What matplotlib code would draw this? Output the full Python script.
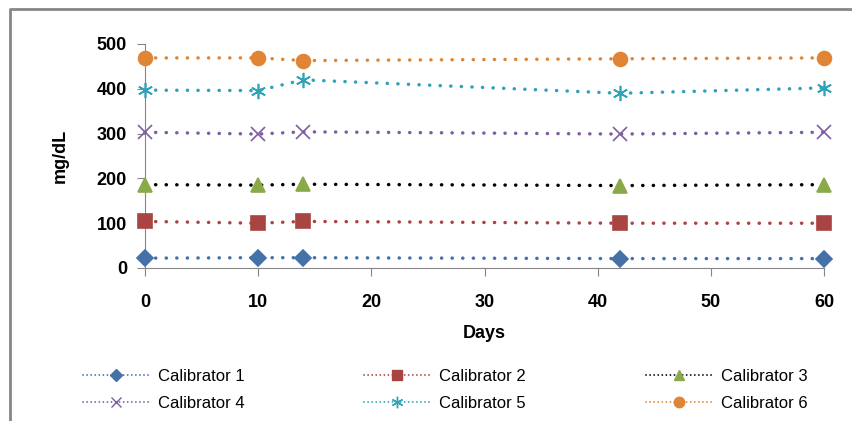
import matplotlib
matplotlib.use('Agg')
import matplotlib.pyplot as plt
from matplotlib.lines import Line2D

days = [0, 10, 14, 42, 60]
cal1 = [22, 23, 23, 21, 21]
cal2 = [104, 100, 104, 100, 100]
cal3 = [186, 185, 187, 184, 186]
cal4 = [303, 299, 304, 299, 303]
cal5 = [397, 396, 420, 390, 402]
cal6 = [469, 469, 463, 467, 469]
names = ['Calibrator 1', 'Calibrator 2', 'Calibrator 3', 'Calibrator 4', 'Calibrator 5', 'Calibrator 6']
series = [cal1, cal2, cal3, cal4, cal5, cal6]
line_cols = ['#4472a8', '#a84442', 'black', '#7d5e9e', '#2ea3b8', '#e08535']
mk_cols = ['#4472a8', '#a84442', '#8aaa4a', '#7d5e9e', '#2ea3b8', '#e08535']
markers = ['D', 's', '^', 'x', (6, 2, 0), 'o']
msizes = [8, 10, 10, 10, 11, 10]

plt.rcParams['font.family'] = ['Liberation Sans', 'DejaVu Sans']

fig = plt.figure(figsize=(8.52, 4.21), dpi=100)
ax = fig.add_axes([145/852, 1-268/421, (824-145)/852, (268-44)/421])

dots = (0, (0.05, 3.0))
leg_handles = []
for i in range(6):
    ax.plot(days, series[i], linestyle=dots, lw=2.5, color=line_cols[i],
            marker=markers[i], markersize=msizes[i], markeredgecolor=mk_cols[i],
            markerfacecolor=mk_cols[i], markeredgewidth=1.2,
            dash_capstyle='round', clip_on=False, zorder=3)
    leg_handles.append(Line2D([], [], linestyle=(0, (0.05, 2.2)), lw=1.3, color=line_cols[i],
                              dash_capstyle='round', marker=markers[i],
                              markersize=msizes[i]*0.75, markeredgecolor=mk_cols[i],
                              markerfacecolor=mk_cols[i], markeredgewidth=1.0))

ax.set_xlim(0, 60)
ax.set_ylim(0, 500)
ax.set_xticks(range(0, 61, 10))
ax.set_yticks(range(0, 501, 100))
for s in ['top', 'right']:
    ax.spines[s].set_visible(False)
for s in ['left', 'bottom']:
    ax.spines[s].set_color('#868686')
ax.tick_params(axis='both', colors='#868686', labelcolor='black', labelsize=13, length=6)
ax.tick_params(axis='y', pad=7)
ax.tick_params(axis='x', pad=13)
for lab in ax.get_xticklabels() + ax.get_yticklabels():
    lab.set_fontweight('bold')
ax.set_xlabel('Days', fontsize=13, fontweight='bold', labelpad=10)
ax.set_ylabel('mg/dL', fontsize=13, fontweight='bold', labelpad=20)

order = [0, 3, 1, 4, 2, 5]
fig.legend([leg_handles[k] for k in order], [names[k] for k in order], ncol=3,
           loc='center', bbox_to_anchor=(445/852, 1-390/421), frameon=False,
           fontsize=12, handlelength=4.0, columnspacing=7.2, labelspacing=0.7,
           handletextpad=0.5)

# chart border: only left and top edges are visible in the crop
fig.add_artist(Line2D([10/852, 10/852, 1.0], [0.0, 1-9/421, 1-9/421],
                      transform=fig.transFigure, color='#868686', lw=2))

fig.savefig('out.png', dpi=100)
